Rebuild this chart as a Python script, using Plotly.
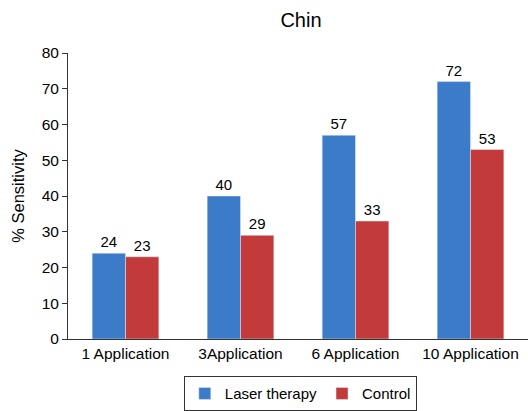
import plotly.graph_objects as go

categories = ["1 Application", "3Application", "6 Application", "10 Application"]
laser = [24, 40, 57, 72]
control = [23, 29, 33, 53]

font = "Liberation Sans, Arial, sans-serif"
fig = go.Figure()
fig.add_trace(go.Bar(x=categories, y=laser, name="Laser therapy", marker_color="#3b7bc8",
                     text=laser, textposition="outside", textfont=dict(size=15, color="black"),
                     cliponaxis=False))
fig.add_trace(go.Bar(x=categories, y=control, name="Control", marker_color="#c23b3a",
                     text=control, textposition="outside", textfont=dict(size=15, color="black"),
                     cliponaxis=False))
fig.update_layout(
    width=528, height=411,
    margin=dict(l=68, r=0, t=53, b=72, autoexpand=False),
    paper_bgcolor="white", plot_bgcolor="white",
    barmode="group", bargap=0.42, bargroupgap=0,
    font=dict(family=font, size=15, color="black"),
    title=dict(text="Chin", x=0.570, xanchor="center", y=0.951, yanchor="middle",
               font=dict(size=20, color="black")),
    showlegend=True,
    legend=dict(orientation="h", x=0.505, xanchor="center", y=-0.13, yanchor="top",
                bordercolor="#333333", borderwidth=1, font=dict(size=15),
                itemwidth=30, traceorder="normal", tracegroupgap=0),
    xaxis=dict(showline=True, linecolor="#333333", linewidth=1, ticks="",
               tickfont=dict(size=15.5), automargin=False),
    yaxis=dict(range=[0, 80], dtick=10, showline=True, linecolor="#333333", linewidth=1,
               ticks="outside", ticklen=5, tickcolor="#333333", showgrid=False, zeroline=False,
               title=dict(text="% Sensitivity", font=dict(size=16.5), standoff=12),
               tickfont=dict(size=15.5), automargin=False),
)
fig.write_html("out.html", config={"displayModeBar": False})
with open("out.html", "r", encoding="utf-8") as f:
    html = f.read()
html = html.replace("<body>", '<body style="margin:0;padding:0;overflow:hidden">', 1)
with open("out.html", "w", encoding="utf-8") as f:
    f.write(html)
